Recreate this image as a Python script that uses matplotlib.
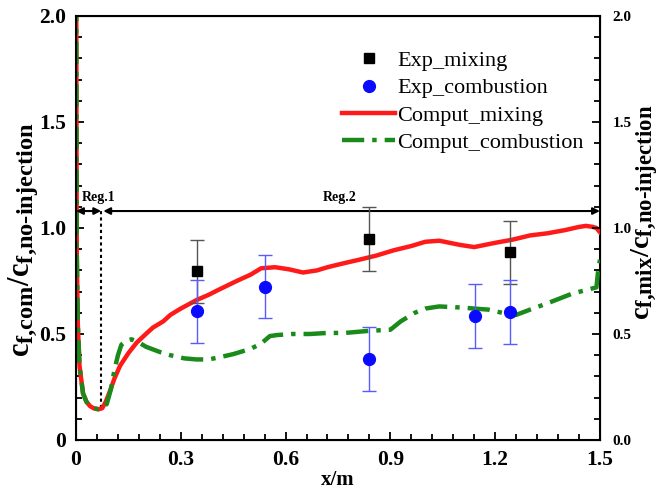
import matplotlib
matplotlib.use('Agg')
import matplotlib.pyplot as plt
import matplotlib._mathtext as mathtext_mod
from matplotlib.lines import Line2D
from matplotlib.ticker import MultipleLocator, FormatStrFormatter

plt.rcParams['font.family'] = 'Liberation Serif'
plt.rcParams['mathtext.fontset'] = 'custom'
plt.rcParams['mathtext.rm'] = 'Liberation Serif:bold'
plt.rcParams['mathtext.it'] = 'Liberation Serif:bold'
plt.rcParams['mathtext.bf'] = 'Liberation Serif:bold'
# subscripts in the original are larger than matplotlib's default 0.7
mathtext_mod.SHRINK_FACTOR = 0.8

# computed curves
mix_x = [0, 0.002, 0.005, 0.01, 0.02, 0.03, 0.04, 0.05, 0.064, 0.075, 0.085, 0.097, 0.11,
         0.126, 0.15, 0.174, 0.2, 0.22, 0.25, 0.27, 0.3, 0.345, 0.38, 0.41, 0.46, 0.5, 0.53,
         0.57, 0.61, 0.65, 0.69, 0.72, 0.77, 0.81, 0.86, 0.91, 0.96, 1.0, 1.04, 1.07, 1.1,
         1.14, 1.17, 1.2, 1.25, 1.3, 1.35, 1.4, 1.44, 1.46, 1.48, 1.49, 1.5]
mix_y = [2.6, 0.9, 0.55, 0.35, 0.22, 0.18, 0.16, 0.15, 0.145, 0.15, 0.18, 0.23, 0.29,
         0.35, 0.41, 0.46, 0.50, 0.53, 0.56, 0.59, 0.62, 0.66, 0.685, 0.71, 0.75, 0.78, 0.81,
         0.815, 0.805, 0.79, 0.80, 0.815, 0.835, 0.85, 0.87, 0.895, 0.915, 0.935, 0.94, 0.93, 0.92,
         0.91, 0.92, 0.93, 0.945, 0.965, 0.975, 0.99, 1.005, 1.01, 1.005, 1.0, 0.98]

com_x = [0, 0.002, 0.005, 0.01, 0.02, 0.03, 0.04, 0.05, 0.064, 0.075, 0.088, 0.1, 0.11,
         0.12, 0.13, 0.145, 0.159, 0.18, 0.2, 0.24, 0.27, 0.31, 0.345, 0.38, 0.41, 0.45, 0.5,
         0.53, 0.555, 0.575, 0.62, 0.67, 0.72, 0.77, 0.84, 0.9, 0.93, 0.97, 1.0, 1.04, 1.1,
         1.14, 1.18, 1.22, 1.26, 1.3, 1.35, 1.42, 1.49, 1.495, 1.5]
com_y = [2.6, 0.9, 0.55, 0.35, 0.22, 0.18, 0.16, 0.15, 0.145, 0.15, 0.17, 0.24, 0.33,
         0.40, 0.45, 0.47, 0.475, 0.46, 0.44, 0.415, 0.40, 0.385, 0.38, 0.38, 0.39, 0.405, 0.43,
         0.455, 0.49, 0.495, 0.50, 0.50, 0.505, 0.505, 0.515, 0.52, 0.56, 0.60, 0.62, 0.63, 0.625,
         0.62, 0.615, 0.60, 0.59, 0.615, 0.645, 0.69, 0.72, 0.8, 0.85]

# experiments
exp_mix_x = [0.345, 0.84, 1.242]
exp_mix_y = [0.795, 0.947, 0.885]
exp_mix_err = [0.15, 0.15, 0.15]

exp_com_x = [0.345, 0.54, 0.84, 1.142, 1.242]
exp_com_y = [0.607, 0.723, 0.382, 0.585, 0.605]
exp_com_err = [0.15, 0.148, 0.15, 0.15, 0.15]

reg1 = (0.0, 0.072)
reg2 = (0.072, 1.5)
reg_y = 1.08

red = '#ff1a1a'
green = '#1a8a1a'
blue = '#0a0aff'

fig = plt.figure(figsize=(6.64, 4.92), dpi=100)
ax = fig.add_axes([0.1145, 0.1057, 0.789, 0.8618])

ax.errorbar(exp_mix_x, exp_mix_y, yerr=exp_mix_err, fmt='s', color='black', ms=7,
            ecolor='#555555', elinewidth=1, capsize=5, capthick=1, zorder=4)
ax.errorbar(exp_com_x, exp_com_y, yerr=exp_com_err, fmt='o', color=blue, ms=8.5,
            ecolor='#5a5aff', elinewidth=1, capsize=5, capthick=1, zorder=4)
ax.plot(mix_x, mix_y, color=red, lw=3.2, zorder=3)
ax.plot(com_x, com_y, color=green, lw=3.2, dashes=(5, 1.8, 1, 1.8), zorder=3)

# region arrows
ax.annotate('', xy=(reg1[0], reg_y), xytext=(reg1[1], reg_y),
            arrowprops=dict(arrowstyle='<|-|>', color='black', lw=1.5, shrinkA=0, shrinkB=0,
                            mutation_scale=10))
ax.annotate('', xy=(reg2[0] + 0.006, reg_y), xytext=(reg2[1], reg_y),
            arrowprops=dict(arrowstyle='<|-|>', color='black', lw=1.5, shrinkA=0, shrinkB=0,
                            mutation_scale=10))
ax.plot([reg1[1], reg1[1]], [0.15, reg_y], color='black', lw=1.5, ls=(0, (1.5, 1.5)), zorder=2)
ax.text(0.064, reg_y + 0.035, 'Reg.1', ha='center', va='bottom', fontsize=10, fontweight='bold')
ax.text(0.756, reg_y + 0.035, 'Reg.2', ha='center', va='bottom', fontsize=10, fontweight='bold')

ax.set_xlim(0, 1.5)
ax.set_ylim(0, 2.0)
ax.xaxis.set_minor_locator(MultipleLocator(0.06))
ax.yaxis.set_minor_locator(MultipleLocator(0.1))
ax.set_xticks([0, 0.3, 0.6, 0.9, 1.2, 1.5])
ax.set_xticklabels(['0', '0.3', '0.6', '0.9', '1.2', '1.5'])
ax.set_yticks([0, 0.5, 1.0, 1.5, 2.0])
ax.set_yticklabels(['0', '0.5', '1.0', '1.5', '2.0'])
ax.tick_params(which='both', direction='in', top=False, right=False, width=1.3,
               labelsize=15.5, pad=7)
ax.tick_params(which='major', length=6)
ax.tick_params(which='minor', length=4)
for lab in ax.get_xticklabels() + ax.get_yticklabels():
    lab.set_fontweight('bold')
for sp in ax.spines.values():
    sp.set_linewidth(1.5)

ax.set_xlabel('x/m', fontsize=15, fontweight='bold', labelpad=0)
ax.set_ylabel(r'$c_{f{,}com}/c_{f{,}no\text{-}injection}$', fontsize=22)
ax.yaxis.set_label_coords(-0.068, 0.472)

ax2 = ax.twinx()
ax2.set_ylim(0, 2.0)
ax2.yaxis.set_major_locator(MultipleLocator(0.5))
ax2.yaxis.set_minor_locator(MultipleLocator(0.1))
ax2.yaxis.set_major_formatter(FormatStrFormatter('%.1f'))
ax2.tick_params(which='both', direction='in', width=1.3, labelsize=11, pad=9)
ax2.tick_params(which='major', length=6)
ax2.tick_params(which='minor', length=4)
for lab in ax2.get_yticklabels():
    lab.set_fontweight('bold')
ax2.set_ylabel(r'$c_{f{,}mix}/c_{f{,}no\text{-}injection}$', fontsize=20.5)
ax2.yaxis.set_label_coords(1.057, 0.538)

handles = [
    Line2D([], [], ls='none', marker='s', color='black', ms=7),
    Line2D([], [], ls='none', marker='o', color=blue, ms=8.5),
    Line2D([], [], color=red, lw=3.2),
    Line2D([], [], color=green, lw=3.2, dashes=(5, 1.8, 1, 1.8)),
]
labels = ['Exp_mixing', 'Exp_combustion', 'Comput_mixing', 'Comput_combustion']
ax.legend(handles, labels, loc='upper right', bbox_to_anchor=(0.995, 0.95), frameon=False,
          fontsize=16, handlelength=2.4, handletextpad=0.1, labelspacing=0.3, borderaxespad=0.2)

fig.savefig('out.png', dpi=100)
